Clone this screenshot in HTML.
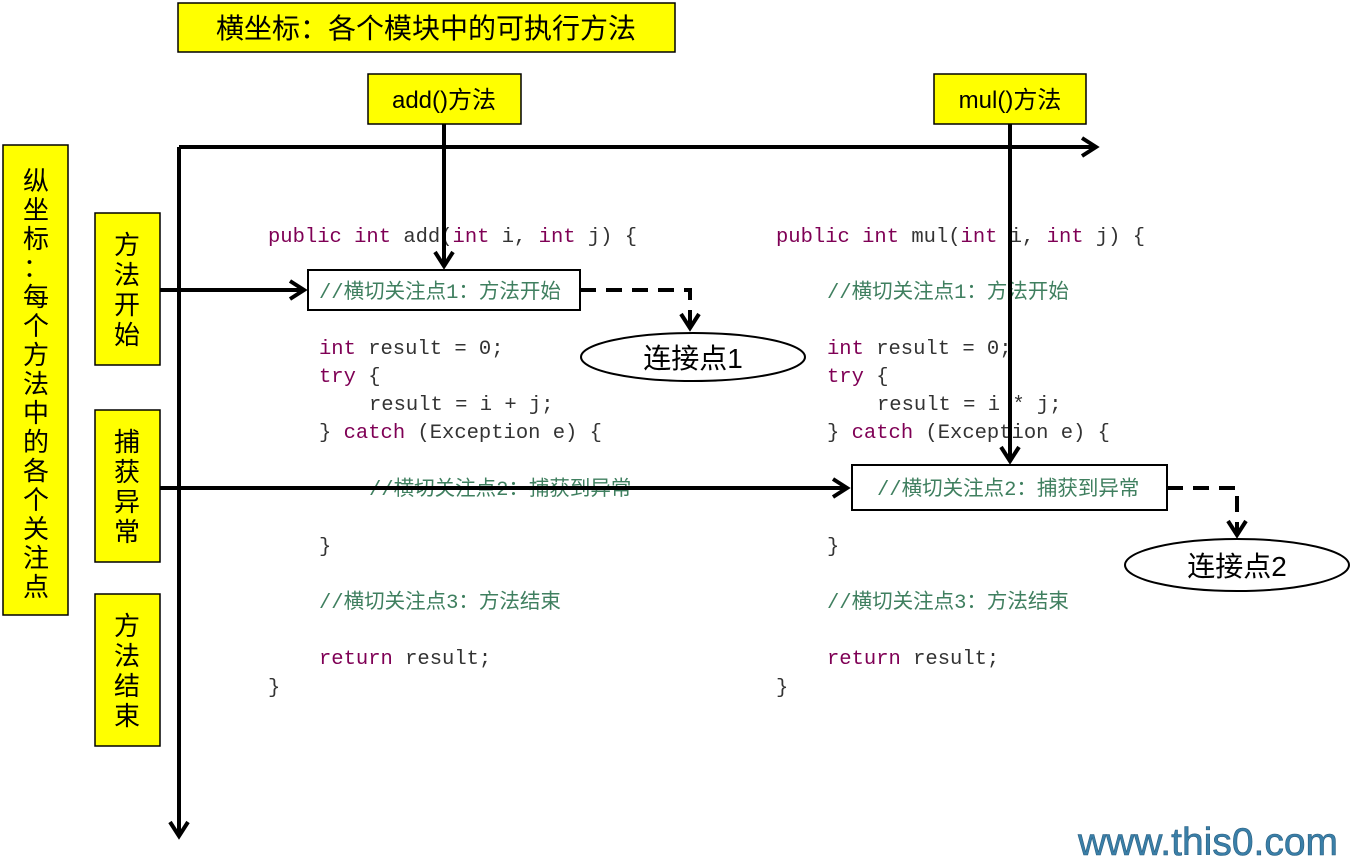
<!DOCTYPE html>
<html><head><meta charset="utf-8"><style>
html,body{margin:0;padding:0;background:#fff;}
svg{display:block}
.cn{font-family:"Liberation Sans","Noto Sans CJK SC",sans-serif;}
.code{font-family:"Liberation Mono","Noto Sans CJK SC",monospace;font-size:20.5px;fill:#333;}
.k{fill:#7f0055;}
.c{fill:#3f7f5f;}
</style></head><body>
<svg width="1350" height="865" viewBox="0 0 1350 865" xmlns="http://www.w3.org/2000/svg">
<defs>
<marker id="ah2" markerWidth="22" markerHeight="22" refX="18" refY="11" orient="auto" markerUnits="userSpaceOnUse">
<path d="M4,2 L18,11 L4,20" fill="none" stroke="#000" stroke-width="4"/>
</marker>
</defs>
<g class="cn" font-size="26" text-anchor="middle">
<rect x="178" y="3" width="497" height="49" fill="#ffff00" stroke="#000" stroke-width="1.5"/>
<text x="426" y="38" font-size="28">横坐标：各个模块中的可执行方法</text>
<rect x="368" y="74" width="153" height="50" fill="#ffff00" stroke="#000" stroke-width="1.5"/>
<text x="444" y="108" font-size="24">add()方法</text>
<rect x="934" y="74" width="152" height="50" fill="#ffff00" stroke="#000" stroke-width="1.5"/>
<text x="1010" y="108" font-size="24">mul()方法</text>
<rect x="3" y="145" width="65" height="470" fill="#ffff00" stroke="#000" stroke-width="1.5"/>
<g font-size="26"><text x="36" y="190">纵</text><text x="36" y="219">坐</text><text x="36" y="248">标</text><text x="36" y="277">：</text><text x="36" y="306">每</text><text x="36" y="335">个</text><text x="36" y="364">方</text><text x="36" y="393">法</text><text x="36" y="422">中</text><text x="36" y="451">的</text><text x="36" y="480">各</text><text x="36" y="509">个</text><text x="36" y="538">关</text><text x="36" y="567">注</text><text x="36" y="596">点</text></g>
<rect x="95" y="213" width="65" height="152" fill="#ffff00" stroke="#000" stroke-width="1.5"/>
<text x="127" y="254">方</text><text x="127" y="284">法</text><text x="127" y="314">开</text><text x="127" y="344">始</text>
<rect x="95" y="410" width="65" height="152" fill="#ffff00" stroke="#000" stroke-width="1.5"/>
<text x="127" y="451">捕</text><text x="127" y="481">获</text><text x="127" y="511">异</text><text x="127" y="541">常</text>
<rect x="95" y="594" width="65" height="152" fill="#ffff00" stroke="#000" stroke-width="1.5"/>
<text x="127" y="635">方</text><text x="127" y="665">法</text><text x="127" y="695">结</text><text x="127" y="725">束</text>
</g>

<g class="code">
<text x="268" y="242"><tspan class="k">public int</tspan> add(<tspan class="k">int</tspan> i, <tspan class="k">int</tspan> j) {</text>
<text x="319" y="298" class="c">//横切关注点1：方法开始</text>
<text x="319" y="354"><tspan class="k">int</tspan> result = 0;</text>
<text x="319" y="382"><tspan class="k">try</tspan> {</text>
<text x="369" y="410">result = i + j;</text>
<text x="319" y="438">} <tspan class="k">catch</tspan> (Exception e) {</text>
<text x="369" y="495" class="c">//横切关注点2：捕获到异常</text>
<text x="319" y="552">}</text>
<text x="319" y="608" class="c">//横切关注点3：方法结束</text>
<text x="319" y="664"><tspan class="k">return</tspan> result;</text>
<text x="268" y="693">}</text>
</g>
<g class="code">
<text x="776" y="242"><tspan class="k">public int</tspan> mul(<tspan class="k">int</tspan> i, <tspan class="k">int</tspan> j) {</text>
<text x="827" y="298" class="c">//横切关注点1：方法开始</text>
<text x="827" y="354"><tspan class="k">int</tspan> result = 0;</text>
<text x="827" y="382"><tspan class="k">try</tspan> {</text>
<text x="877" y="410">result = i * j;</text>
<text x="827" y="438">} <tspan class="k">catch</tspan> (Exception e) {</text>
<text x="827" y="552">}</text>
<text x="827" y="608" class="c">//横切关注点3：方法结束</text>
<text x="827" y="664"><tspan class="k">return</tspan> result;</text>
<text x="776" y="693">}</text>
</g>

<rect x="308" y="270" width="272" height="40" fill="none" stroke="#000" stroke-width="2"/>
<rect x="852" y="465" width="315" height="45" fill="#fff" stroke="#000" stroke-width="2"/>
<text class="code c" x="877" y="495">//横切关注点2：捕获到异常</text>

<g stroke="#000" stroke-width="4" fill="none">
<line x1="179" y1="147" x2="1096" y2="147" marker-end="url(#ah2)"/>
<line x1="179" y1="147" x2="179" y2="836" marker-end="url(#ah2)"/>
<line x1="160" y1="290" x2="304" y2="290" marker-end="url(#ah2)"/>
<line x1="444" y1="124" x2="444" y2="266" marker-end="url(#ah2)"/>
<line x1="160" y1="488" x2="847" y2="488" marker-end="url(#ah2)"/>
<line x1="1010" y1="124" x2="1010" y2="461" marker-end="url(#ah2)"/>
<polyline points="580,290 690,290 690,328" stroke-dasharray="16,10" marker-end="url(#ah2)"/>
<polyline points="1167,488 1237,488 1237,535" stroke-dasharray="16,10" marker-end="url(#ah2)"/>
</g>

<ellipse cx="693" cy="357" rx="112" ry="24" fill="#fff" stroke="#000" stroke-width="2"/>
<text class="cn" x="693" y="368" font-size="28" text-anchor="middle">连接点1</text>
<ellipse cx="1237" cy="565" rx="112" ry="26" fill="#fff" stroke="#000" stroke-width="2"/>
<text class="cn" x="1237" y="576" font-size="28" text-anchor="middle">连接点2</text>

<text x="1208" y="855" font-family="Liberation Sans,sans-serif" font-size="39" fill="#3a7fa8" stroke="#2a5f80" stroke-width="0.6" text-anchor="middle">www.this0.com</text>
</svg>
</body></html>
